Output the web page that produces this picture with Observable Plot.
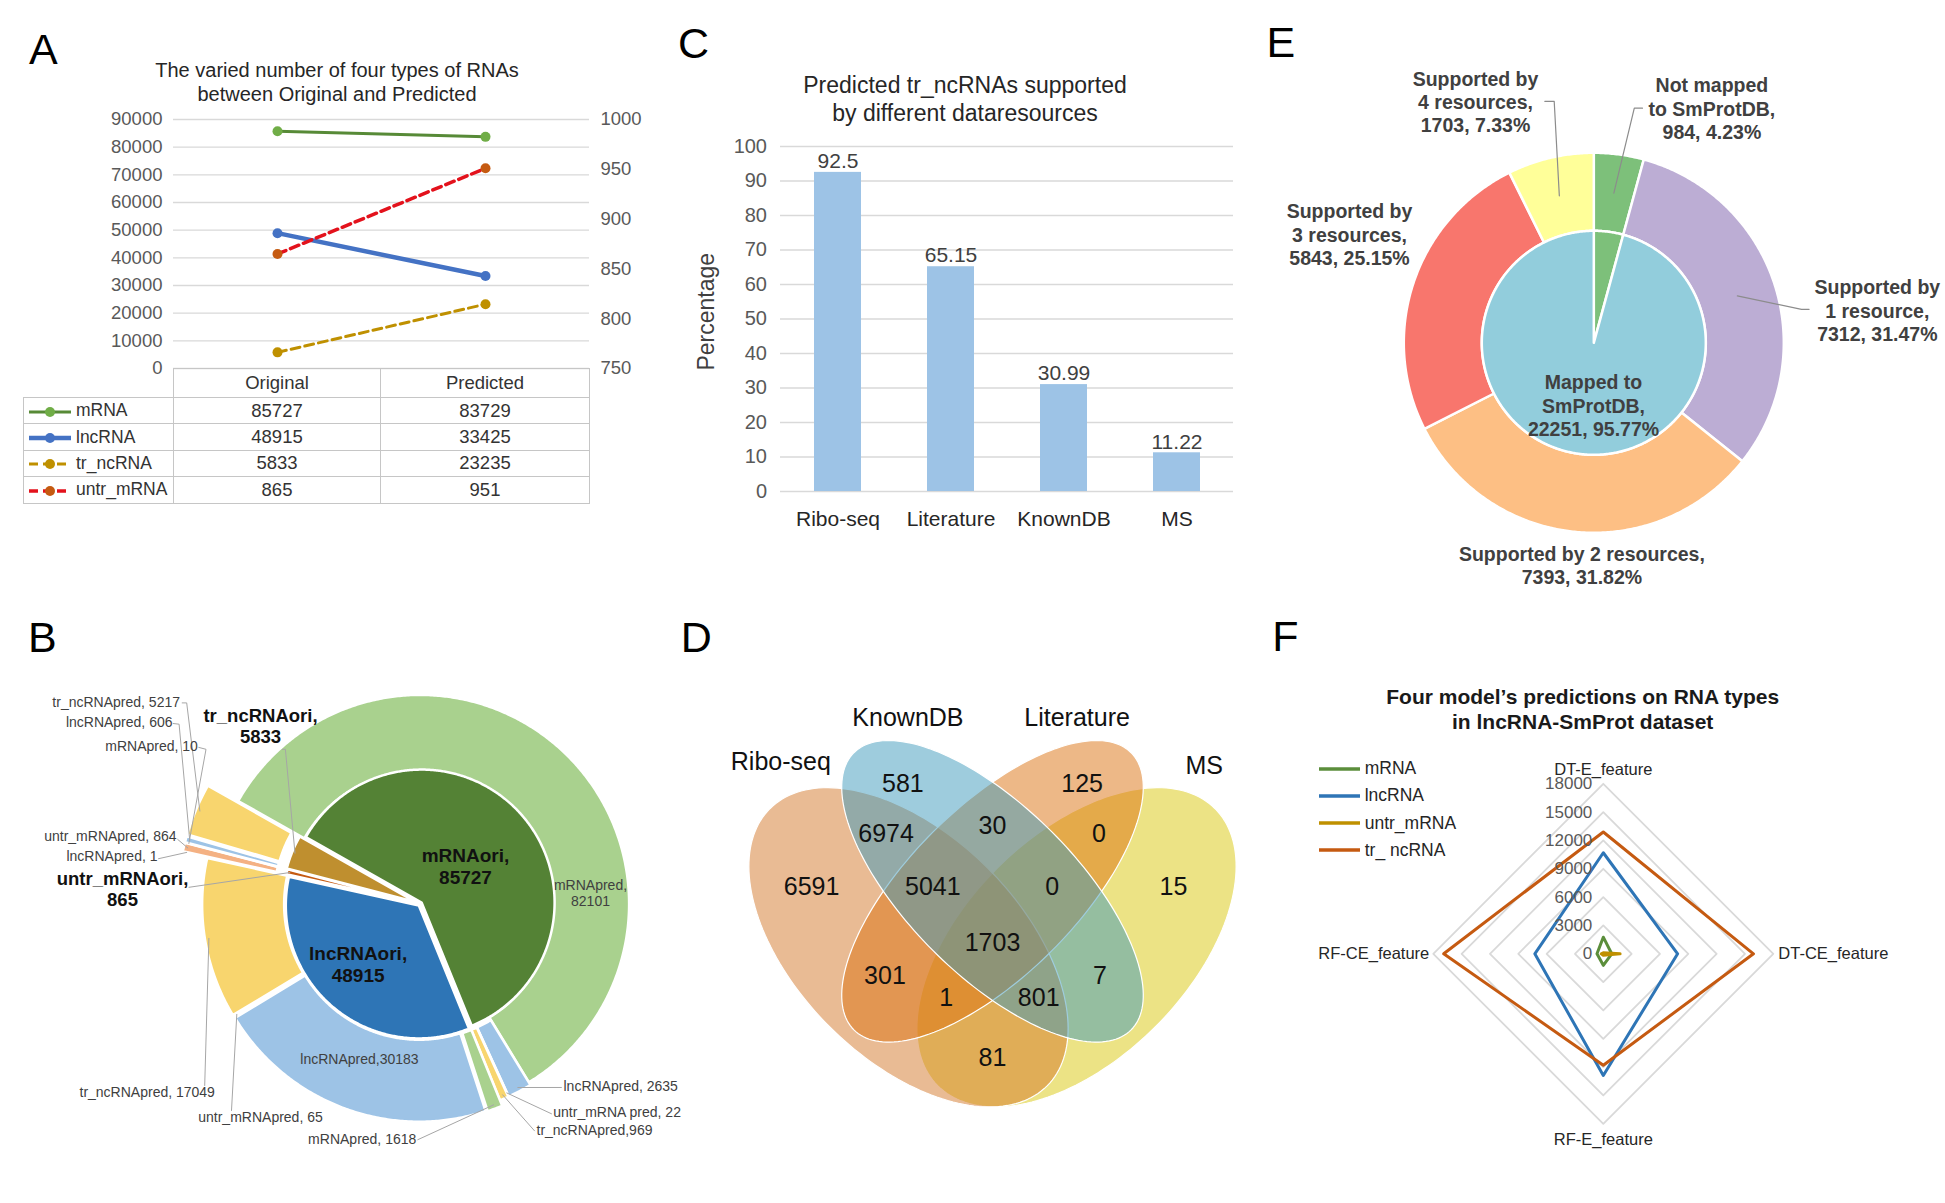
<!DOCTYPE html>
<html>
<head>
<meta charset="utf-8">
<script src="https://cdn.jsdelivr.net/npm/d3@7"></script>
<script src="https://cdn.jsdelivr.net/npm/@observablehq/plot@0.6"></script>
<style>
  html, body { margin: 0; padding: 0; background: #fff; overflow: hidden; }
  #root { position: relative; width: 1945px; height: 1203px; overflow: hidden; background: #fff;
          font-family: "Liberation Sans", Arial, Helvetica, sans-serif; }
  .t { position: absolute; white-space: nowrap; }
  #tableA { position: absolute; left: 23px; top: 368px; border-collapse: collapse; table-layout: fixed; width: 566px; }
  #tableA td { border: 1.5px solid #c6c6c6; padding: 0; text-align: center; font-size: 18.5px; color: #333; white-space: nowrap; overflow: visible; }
  #tableA td.blank { border: none; }
  #tableA td.key { text-align: left; padding-left: 4px; font-size: 17.5px; }
  #tableA td.key svg { vertical-align: middle; margin-right: 4px; }
</style>
</head>
<body>
<div id="root"></div>
<script>
// ================= DATA =================
// A: line chart + table
const aCategories = ["Original", "Predicted"];
const aSeries = ["mRNA", "lncRNA", "tr_ncRNA", "untr_mRNA"];
const aMRNA = [85727, 83729];
const aLncRNA = [48915, 33425];
const aTrNcRNA = [5833, 23235];
const aUntrMRNA = [865, 951];               // secondary axis
const aLeftTicks = [0, 10000, 20000, 30000, 40000, 50000, 60000, 70000, 80000, 90000];
const aRightTicks = [750, 800, 850, 900, 950, 1000];

// B: doughnut (original types inside, predicted types outside)
const bOriTypes = ["mRNAori", "lncRNAori", "untr_mRNAori", "tr_ncRNAori"];
const bOriValues = [85727, 48915, 865, 5833];
const bPredTypes = ["mRNApred", "lncRNApred", "untr_mRNApred", "tr_ncRNApred"];
const bPredFromMRNA = [82101, 2635, 22, 969];
const bPredFromLncRNA = [1618, 30183, 65, 17049];
const bPredFromUntr = [0, 1, 864, 0];
const bPredFromTrNc = [10, 606, 0, 5217];

// C: bar chart
const cCategories = ["Ribo-seq", "Literature", "KnownDB", "MS"];
const cPercent = [92.5, 65.15, 30.99, 11.22];
const cTicks = [0, 10, 20, 30, 40, 50, 60, 70, 80, 90, 100];

// D: Venn diagram (R = Ribo-seq, K = KnownDB, L = Literature, M = MS)
const dSets = ["Ribo-seq", "KnownDB", "Literature", "MS"];
const dRegions = ["R", "K", "L", "M", "RK", "KL", "LM", "RL", "RM", "KM", "RKL", "KLM", "RLM", "RKM", "RKLM"];
const dCounts = [6591, 581, 125, 15, 6974, 30, 0, 301, 81, 7, 5041, 0, 1, 801, 1703];

// E: nested pie
const eOuterNames = ["Not mapped\nto SmProtDB", "Supported by\n1 resource", "Supported by 2 resources", "Supported by\n3 resources", "Supported by\n4 resources"];
const eOuterValues = [984, 7312, 7393, 5843, 1703];
const eOuterPercent = ["4.23%", "31.47%", "31.82%", "25.15%", "7.33%"];
const eInnerNames = ["Not mapped\nto SmProtDB", "Mapped to\nSmProtDB"];
const eInnerValues = [984, 22251];
const eInnerPercent = ["4.23%", "95.77%"];

// F: radar
const fAxes = ["DT-E_feature", "DT-CE_feature", "RF-E_feature", "RF-CE_feature"];
const fSeries = ["mRNA", "lncRNA", "untr_mRNA", "tr_ ncRNA"];
const fMRNA = [1760, 890, 1220, 670];
const fLncRNA = [10700, 7870, 12880, 7250];
const fUntrMRNA = [110, 1780, 150, 220];
const fTrNcRNA = [12900, 15900, 11800, 16900];
const fTicks = [0, 3000, 6000, 9000, 12000, 15000, 18000];

// ================= HELPERS =================
const FONT = '"Liberation Sans", Arial, Helvetica, sans-serif';
const deg = Math.PI / 180;
const root = document.getElementById("root");
function put(el, left, top) {
  el.style.position = "absolute"; el.style.left = left + "px"; el.style.top = top + "px";
  root.appendChild(el); return el;
}
function txt(text, x, y, size, o = {}) {
  const lh = o.lh || 1.2, anchor = o.anchor || "middle";
  const lines = text.split("\n");
  const d = document.createElement("div");
  d.className = "t";
  Object.assign(d.style, {fontSize: size + "px", lineHeight: String(lh), fontWeight: o.weight || "normal",
    color: o.color || "#000", textAlign: anchor === "middle" ? "center" : anchor === "end" ? "right" : "left"});
  lines.forEach((l, i) => { if (i) d.appendChild(document.createElement("br")); d.appendChild(document.createTextNode(l)); });
  d.style.top = (y - lines.length * size * lh / 2) + "px";
  if (anchor === "middle") { d.style.left = x + "px"; d.style.transform = "translateX(-50%)" + (o.rotate ? ` rotate(${o.rotate}deg)` : ""); }
  else if (anchor === "end") d.style.right = (1945 - x) + "px";
  else d.style.left = x + "px";
  root.appendChild(d);
  return d;
}
function polar(a, r, o = [0, 0]) { return [o[0] + r * Math.sin(a), o[1] + r * Math.cos(a)]; }
function sector(a0, a1, r0, r1, o = [0, 0]) {
  const n = Math.max(2, Math.ceil(Math.abs(a1 - a0) / (0.5 * deg)));
  const pts = [];
  for (let i = 0; i <= n; i++) pts.push(polar(a0 + (a1 - a0) * i / n, r1, o));
  if (r0 > 0) for (let i = n; i >= 0; i--) pts.push(polar(a0 + (a1 - a0) * i / n, r0, o));
  else pts.push([o[0], o[1]]);
  return pts;
}
const baseStyle = {fontFamily: FONT, background: "transparent", overflow: "visible"};
// plot whose x/y units are pixels, origin at local (cx, cy), y upward
function pxPlot(left, top, width, height, cx, cy, marks) {
  const p = Plot.plot({
    width, height, marginLeft: 0, marginRight: 0, marginTop: 0, marginBottom: 0,
    x: {type: "linear", domain: [-cx, width - cx], axis: null},
    y: {type: "linear", domain: [cy - height, cy], axis: null},
    style: baseStyle, marks
  });
  return put(p, left, top);
}

// ================= PANEL LETTERS =================
[["A", 29, 50], ["B", 28, 637.5], ["C", 678, 44], ["D", 680.7, 637.5], ["E", 1266.6, 42.5], ["F", 1272.3, 637]]
  .forEach(([l, x, y]) => txt(l, x, y, 43, {anchor: "start"}));

// ================= PANEL A =================
txt("The varied number of four types of RNAs\nbetween Original and Predicted", 337, 81.5, 20, {color: "#262626"});
const aToLeft = v => (v - 750) / 250 * 90000;
const aFromLeft = y => 750 + y / 90000 * 250;
const aValues = [aMRNA, aLncRNA, aTrNcRNA, aUntrMRNA];
const aSecondary = [false, false, false, true];
const aRows = aSeries.flatMap((s, si) => aCategories.map((c, ci) => ({
  series: s, cat: c, value: aValues[si][ci],
  y: aSecondary[si] ? aToLeft(aValues[si][ci]) : aValues[si][ci]
})));
const aStyles = [
  {line: "#578A37", marker: "#70AD47", width: 3},
  {line: "#4472C4", marker: "#4472C4", width: 4.5},
  {line: "#BF9000", marker: "#BF9000", width: 3, dash: "9,5"},
  {line: "#E3121C", marker: "#C55A11", width: 3.5, dash: "9,5"}
];
const plotA = Plot.plot({
  width: 650, height: 290, marginLeft: 173, marginRight: 61, marginTop: 19, marginBottom: 22,
  x: {type: "point", domain: aCategories, padding: 0.5, axis: null},
  y: {domain: [0, 90000], axis: null},
  style: {...baseStyle, color: "#595959"},
  marks: [
    Plot.gridY(aLeftTicks, {stroke: "#d9d9d9", strokeOpacity: 1, strokeWidth: 1.3}),
    Plot.axisY(aLeftTicks, {anchor: "left", tickSize: 0, tickPadding: 11, fontSize: 18.5, tickFormat: d3.format("d"), label: null}),
    Plot.axisY(aRightTicks.map(aToLeft), {anchor: "right", tickSize: 0, tickPadding: 11, fontSize: 18.5,
      tickFormat: y => d3.format("d")(Math.round(aFromLeft(y))), label: null}),
    ...aSeries.map((s, si) => Plot.line(aRows.filter(r => r.series === s), {
      x: "cat", y: "y", stroke: aStyles[si].line, strokeWidth: aStyles[si].width, strokeDasharray: aStyles[si].dash})),
    ...aSeries.map((s, si) => Plot.dot(aRows.filter(r => r.series === s), {x: "cat", y: "y", r: 5, fill: aStyles[si].marker}))
  ]
});
put(plotA, 0, 100);

// data table under chart A
(function () {
  const table = document.createElement("table");
  table.id = "tableA";
  const cg = document.createElement("colgroup");
  [150, 207, 209].forEach(w => { const c = document.createElement("col"); c.style.width = w + "px"; cg.appendChild(c); });
  table.appendChild(cg);
  const hr = document.createElement("tr"); hr.style.height = "29px";
  const blank = document.createElement("td"); blank.className = "blank"; hr.appendChild(blank);
  aCategories.forEach(c => { const td = document.createElement("td"); td.textContent = c; hr.appendChild(td); });
  table.appendChild(hr);
  aSeries.forEach((s, si) => {
    const tr = document.createElement("tr"); tr.style.height = "26.4px";
    const key = document.createElement("td"); key.className = "key";
    const st = aStyles[si];
    const sw = d3.create("svg").attr("width", 44).attr("height", 14);
    sw.append("line").attr("x1", 1).attr("x2", 43).attr("y1", 7).attr("y2", 7)
      .attr("stroke", st.line).attr("stroke-width", st.width).attr("stroke-dasharray", st.dash || null);
    sw.append("circle").attr("cx", 22).attr("cy", 7).attr("r", 5).attr("fill", st.marker);
    key.appendChild(sw.node());
    key.appendChild(document.createTextNode(s));
    tr.appendChild(key);
    aValues[si].forEach(v => { const td = document.createElement("td"); td.textContent = v; tr.appendChild(td); });
    table.appendChild(tr);
  });
  root.appendChild(table);
})();

// ================= PANEL B =================
(function () {
  const bPredByOri = [bPredFromMRNA, bPredFromLncRNA, bPredFromUntr, bPredFromTrNc];
  const innerColor = ["#548235", "#2E75B6", "#C55A11", "#BF8F2F"];
  const outerColor = ["#A9D18E", "#9DC3E6", "#F4B183", "#F8D56E"];
  const R1 = 133, R2 = 209, start = -60.5 * deg;
  const innerExplode = [2, 2, 4, 5];
  const outerExplode = (oi, pi) => oi === 0 ? (pi === 0 ? {d: 0, extra: 0} : {d: 3, extra: 0})
    : oi === 1 ? {d: 3, extra: 6} : {d: 14, extra: 20};
  const pie = d3.pie().sort(null).startAngle(start).endAngle(start + 2 * Math.PI);
  const inner = pie(bOriValues).map((a, i) => {
    const mid = (a.startAngle + a.endAngle) / 2;
    const off = polar(mid, innerExplode[i]);
    return {a, mid, off, r0: 0, r1: R1, color: innerColor[i]};
  });
  const outerVals = [], outerMeta = [];
  bPredByOri.forEach((arr, oi) => arr.forEach((v, pi) => { outerVals.push(v); outerMeta.push({oi, pi}); }));
  const outer = {};
  pie(outerVals).forEach((a, k) => {
    const {oi, pi} = outerMeta[k];
    const mid = (a.startAngle + a.endAngle) / 2;
    const ex = outerExplode(oi, pi);
    const off = polar(mid, ex.d);
    outer[oi + "-" + pi] = {a, mid, off, r0: R1, r1: R2 + ex.extra, color: outerColor[pi], v: outerVals[k]};
  });
  const slicesMarks = [...Object.values(outer).filter(s => s.v > 0), ...inner].map(s =>
    Plot.line(sector(s.a.startAngle, s.a.endAngle, s.r0, s.r1, s.off),
      {fill: s.color, stroke: "white", strokeWidth: 2.5, curve: "linear-closed"}));

  const labels = [
    {ring: "outer", oi: 3, pi: 3, sep: ", ", pos: [-240.1, 201.8], anchor: "end", leader: [[-237.9, 201], [-233.4, 201]]},
    {ring: "outer", oi: 3, pi: 1, sep: ", ", pos: [-247.6, 182.4], anchor: "end", leader: [[-246.9, 180.4], [-241, 179.7]]},
    {ring: "outer", oi: 3, pi: 0, sep: ", ", pos: [-222.2, 158.4], anchor: "end", leader: [[-221.3, 156.5], [-214.1, 154.6]]},
    {ring: "inner", oi: 3, sep: ",\n", pos: [-159.6, 178.5], bold: true, size: 18.5, leader: [[-137.8, 154.6], [-134.7, 154.6]]},
    {ring: "outer", oi: 2, pi: 2, sep: ", ", pos: [-243.6, 67.6], anchor: "end", leader: [[-242.4, 64.5]]},
    {ring: "outer", oi: 2, pi: 1, sep: ", ", pos: [-262.6, 48.4], anchor: "end", leader: [[-261.6, 45.2]]},
    {ring: "inner", oi: 2, sep: ",\n", pos: [-297.6, 15], bold: true, size: 18.5, leader: [[-231.1, 16.6]]},
    {ring: "inner", oi: 0, sep: ",\n", pos: [45.4, 37.6], bold: true, size: 19},
    {ring: "inner", oi: 1, sep: ",\n", pos: [-62, -60.4], bold: true, size: 19},
    {ring: "outer", oi: 0, pi: 0, sep: ",\n", pos: [170.4, 11.4]},
    {ring: "outer", oi: 1, pi: 1, sep: ",", pos: [-60.6, -154.6]},
    {ring: "outer", oi: 1, pi: 3, sep: ", ", pos: [-272.9, -188.2], leader: [[-215.4, -181.6]]},
    {ring: "outer", oi: 1, pi: 2, sep: ", ", pos: [-159.6, -213.4], leader: [[-188.6, -206.6]]},
    {ring: "outer", oi: 1, pi: 0, sep: ", ", pos: [-57.9, -234.6], leader: [[-2.3, -235.8]]},
    {ring: "outer", oi: 0, pi: 1, sep: ", ", pos: [143.4, -182.4], anchor: "start", leader: [[141.3, -183.6]]},
    {ring: "outer", oi: 0, pi: 2, sep: ", ", name: "untr_mRNA pred", pos: [133.2, -207.6], anchor: "start", leader: [[131.4, -209.9]]},
    {ring: "outer", oi: 0, pi: 3, sep: ",", pos: [116.4, -226.1], anchor: "start", leader: [[114.4, -226.9]]}
  ];
  const leaderMarks = [], textMarks = [];
  labels.forEach(l => {
    let name, value, anchorPt;
    if (l.ring === "inner") {
      const s = inner[l.oi]; name = bOriTypes[l.oi]; value = bOriValues[l.oi];
      anchorPt = polar(s.mid, R1 - 3, s.off);
    } else {
      const s = outer[l.oi + "-" + l.pi]; name = l.name || bPredTypes[l.pi]; value = bPredByOri[l.oi][l.pi];
      anchorPt = polar(s.mid, s.r1 - 4, s.off);
    }
    if (l.leader) leaderMarks.push(Plot.line([...l.leader, anchorPt], {stroke: "#a6a6a6", strokeWidth: 1}));
    textMarks.push(Plot.text([l], {
      x: d => d.pos[0], y: d => d.pos[1], text: () => name + l.sep + value,
      textAnchor: l.anchor || "middle", lineAnchor: "middle", lineHeight: 1.15,
      fontSize: l.size || 14, fontWeight: l.bold ? "bold" : "normal", fill: l.bold ? "#111" : "#404040"
    }));
  });
  pxPlot(0, 600, 690, 603, 419.6, 303.4, [...slicesMarks, ...leaderMarks, ...textMarks]);
})();

// ================= PANEL C =================
txt("Predicted tr_ncRNAs supported\nby different dataresources", 965, 99.5, 23, {lh: 1.26, color: "#262626"});
txt("Percentage", 707, 312, 23, {rotate: -90, color: "#404040"});
(function () {
  const cRows = cCategories.map((c, i) => ({cat: c, pct: cPercent[i]}));
  const plotC = Plot.plot({
    width: 580, height: 420, marginLeft: 100, marginRight: 27, marginTop: 16, marginBottom: 59,
    x: {type: "band", domain: cCategories, paddingInner: 0.585, paddingOuter: 0.2925, axis: null},
    y: {domain: [0, 100], axis: null},
    style: {...baseStyle, color: "#595959"},
    marks: [
      Plot.gridY(cTicks, {stroke: "#d9d9d9", strokeOpacity: 1, strokeWidth: 1.3}),
      Plot.axisY(cTicks, {tickSize: 0, tickPadding: 13.5, fontSize: 20, label: null}),
      Plot.axisX(cCategories, {tickSize: 0, tickPadding: 20, fontSize: 21, fill: "#262626", label: null}),
      Plot.barY(cRows, {x: "cat", y: "pct", fill: "#9DC3E6"}),
      Plot.text(cRows, {x: "cat", y: "pct", text: d => String(d.pct), dy: -11, fontSize: 21, fill: "#404040"})
    ]
  });
  put(plotC, 680, 130);
})();

// ================= PANEL D =================
(function () {
  // VennDiagram quad layout geometry (unit square)
  const ellipses = [
    {cx: 0.35, cy: 0.47, a: 0.35, b: 0.20, rot: 135, color: "#D37729"},
    {cx: 0.50, cy: 0.57, a: 0.35, b: 0.15, rot: 135, color: "#3D99BB"},
    {cx: 0.50, cy: 0.57, a: 0.35, b: 0.15, rot: 45, color: "#DB710F"},
    {cx: 0.65, cy: 0.47, a: 0.35, b: 0.20, rot: 45, color: "#D9C70B"}
  ];
  const drawOrder = [3, 0, 2, 1];
  const setLabelPos = [[0.122, 0.801], [0.349, 0.880], [0.651, 0.880], [0.878, 0.793]];
  const labelNudge = {K: [-0.045, 0], L: [0.045, 0]};
  const inside = (e, x, y) => {
    const t = e.rot * deg, c = Math.cos(t), s = Math.sin(t);
    const dx = x - e.cx, dy = y - e.cy;
    const u = dx * c + dy * s, v = -dx * s + dy * c;
    return (u * u) / (e.a * e.a) + (v * v) / (e.b * e.b) <= 1;
  };
  const ellPts = e => {
    const t0 = e.rot * deg;
    return d3.range(0, 360, 2).map(k => {
      const t = k * deg;
      return [e.cx + e.a * Math.cos(t) * Math.cos(t0) - e.b * Math.sin(t) * Math.sin(t0),
              e.cy + e.a * Math.cos(t) * Math.sin(t0) + e.b * Math.sin(t) * Math.cos(t0)];
    });
  };
  // region label positions: pole of inaccessibility of each region on a grid
  const NG = 200;
  const codes = new Uint8Array(NG * NG);
  for (let j = 0; j < NG; j++) for (let i = 0; i < NG; i++) {
    const x = (i + 0.5) / NG, y = (j + 0.5) / NG;
    let c = 0;
    ellipses.forEach((e, k) => { if (inside(e, x, y)) c |= 1 << k; });
    codes[j * NG + i] = c;
  }
  const pole = target => {
    const D = new Float32Array(NG * NG);
    for (let k = 0; k < NG * NG; k++) D[k] = codes[k] === target ? 1e9 : 0;
    const g = (i, j) => (i < 0 || j < 0 || i >= NG || j >= NG) ? 0 : D[j * NG + i];
    for (let j = 0; j < NG; j++) for (let i = 0; i < NG; i++) {
      const k = j * NG + i;
      if (D[k] > 0) D[k] = Math.min(D[k], g(i - 1, j) + 1, g(i, j - 1) + 1, g(i - 1, j - 1) + Math.SQRT2, g(i + 1, j - 1) + Math.SQRT2);
    }
    for (let j = NG - 1; j >= 0; j--) for (let i = NG - 1; i >= 0; i--) {
      const k = j * NG + i;
      if (D[k] > 0) D[k] = Math.min(D[k], g(i + 1, j) + 1, g(i, j + 1) + 1, g(i + 1, j + 1) + Math.SQRT2, g(i - 1, j + 1) + Math.SQRT2);
    }
    let best = 0;
    for (let k = 0; k < NG * NG; k++) if (D[k] > best) best = D[k];
    let sx = 0, sy = 0, n = 0;
    for (let j = 0; j < NG; j++) for (let i = 0; i < NG; i++) {
      if (D[j * NG + i] >= best - 0.3) { sx += (i + 0.5) / NG; sy += (j + 0.5) / NG; n++; }
    }
    return [sx / n, sy / n];
  };
  const bits = {R: 1, K: 2, L: 4, M: 8};
  const regionRows = dRegions.map((key, i) => {
    const code = [...key].reduce((acc, ch) => acc | bits[ch], 0);
    const [x, y] = pole(code);
    const nd = labelNudge[key] || [0, 0];
    return {x: x + nd[0], y: y + nd[1], count: dCounts[i]};
  });
  const setRows = dSets.map((s, i) => ({name: s, x: setLabelPos[i][0], y: setLabelPos[i][1]}));
  const plotD = Plot.plot({
    width: 560, height: 560, marginLeft: 0, marginRight: 0, marginTop: 0, marginBottom: 0,
    x: {domain: [0, 1], axis: null}, y: {domain: [0, 1], axis: null},
    style: baseStyle,
    marks: [
      ...drawOrder.map(k => Plot.line(ellPts(ellipses[k]), {fill: ellipses[k].color, fillOpacity: 0.5, stroke: "white", strokeWidth: 1.2, curve: "linear-closed"})),
      Plot.text(setRows, {x: "x", y: "y", text: "name", fontSize: 25, fill: "#111"}),
      Plot.text(regionRows, {x: "x", y: "y", text: d => String(d.count), fontSize: 25, fill: "#111"})
    ]
  });
  put(plotD, 712.3, 649.8);
})();

// ================= PANEL E =================
(function () {
  const outerColors = ["#7DC07A", "#BCADD4", "#FDBF84", "#F8766D", "#FFFF99"];
  const innerColors = ["#7DC07A", "#92CDDC"];
  const r0 = 112, r1 = 190;
  const pie = d3.pie().sort(null);
  const outerArcs = pie(eOuterValues), innerArcs = pie(eInnerValues);
  const marks = [
    ...outerArcs.map((a, i) => Plot.line(sector(a.startAngle, a.endAngle, r0, r1), {fill: outerColors[i], stroke: "white", strokeWidth: 2.5, curve: "linear-closed"})),
    ...innerArcs.map((a, i) => Plot.line(sector(a.startAngle, a.endAngle, 0, r0), {fill: innerColors[i], stroke: "white", strokeWidth: 2.5, curve: "linear-closed"}))
  ];
  const layout = [
    {ring: "outer", i: 0, pos: [118.1, 234.6], leader: [[48.7, 234.6], [40.5, 234.6]]},
    {ring: "outer", i: 1, pos: [283.5, 32.7], leader: [[215.3, 33.5], [207.7, 33.5]]},
    {ring: "outer", i: 2, pos: [-11.9, -222.5]},
    {ring: "outer", i: 3, pos: [-244.3, 108.5]},
    {ring: "outer", i: 4, pos: [-118.3, 241.3], leader: [[-49, 241.5], [-39.6, 241.5]]},
    {ring: "inner", i: 1, pos: [-0.3, -62.3]}
  ];
  layout.forEach(l => {
    const isOuter = l.ring === "outer";
    const a = isOuter ? outerArcs[l.i] : innerArcs[l.i];
    const name = isOuter ? eOuterNames[l.i] : eInnerNames[l.i];
    const val = isOuter ? eOuterValues[l.i] : eInnerValues[l.i];
    const pct = isOuter ? eOuterPercent[l.i] : eInnerPercent[l.i];
    if (l.leader) marks.push(Plot.line([...l.leader, polar((a.startAngle + a.endAngle) / 2, (r0 + r1) / 2)], {stroke: "#8c8c8c", strokeWidth: 1.2}));
    marks.push(Plot.text([l], {x: d => d.pos[0], y: d => d.pos[1], text: () => `${name},\n${val}, ${pct}`,
      lineAnchor: "middle", lineHeight: 1.2, fontSize: 19.5, fontWeight: "bold", fill: "#404040"}));
  });
  pxPlot(1280, 0, 665, 600, 313.3, 342.3, marks);
})();

// ================= PANEL F =================
txt("Four model’s predictions on RNA types\nin lncRNA-SmProt dataset", 1582.7, 709.5, 21, {weight: "bold", lh: 1.22, color: "#1a1a1a"});
(function () {
  const fValues = [fMRNA, fLncRNA, fUntrMRNA, fTrNcRNA];
  const fColors = ["#5B8E3B", "#2E75B6", "#BF9000", "#C55A11"];
  // legend
  fSeries.forEach((s, i) => {
    const y = 768.8 + i * 27.1;
    const sw = d3.create("svg").attr("width", 42).attr("height", 8);
    sw.append("line").attr("x1", 0).attr("x2", 41).attr("y1", 4).attr("y2", 4).attr("stroke", fColors[i]).attr("stroke-width", 3.5);
    put(sw.node(), 1318.6, y - 4);
    txt(s, 1364.7, y, 17.5, {anchor: "start", color: "#262626"});
  });
  const k = 170 / 18000;  // px per unit
  const cx = 312.8, cy = 213.3, W = 655, H = 463;
  const vtx = (ai, v) => polar(ai * 2 * Math.PI / fAxes.length, v);
  const grid = fTicks.filter(t => t > 0).map(t => fAxes.map((_, ai) => vtx(ai, t)));
  const series = fValues.map(vals => vals.map((v, ai) => vtx(ai, v)));
  const tickRows = fTicks.map(t => ({t, x: 0, y: t}));
  const axisRows = fAxes.map((a, ai) => { const [x, y] = vtx(ai, 18000); return {a, ai, x, y}; });
  const plotF = Plot.plot({
    width: W, height: H, marginLeft: 0, marginRight: 0, marginTop: 0, marginBottom: 0,
    x: {domain: [-cx / k, (W - cx) / k], axis: null},
    y: {domain: [(cy - H) / k, cy / k], axis: null},
    style: baseStyle,
    marks: [
      ...grid.map(pts => Plot.line(pts, {stroke: "#d9d9d9", strokeWidth: 1.8, curve: "linear-closed"})),
      ...series.map((pts, i) => Plot.line(pts, {stroke: fColors[i], strokeWidth: 3, curve: "linear-closed"})),
      Plot.text(tickRows, {x: "x", y: "y", text: d => String(d.t), textAnchor: "end", dx: -11, fontSize: 17, fill: "#595959"}),
      Plot.text(axisRows.filter(d => d.ai === 0), {x: "x", y: "y", text: "a", dy: -14.5, fontSize: 16.5, fill: "#262626"}),
      Plot.text(axisRows.filter(d => d.ai === 2), {x: "x", y: "y", text: "a", dy: 15.5, fontSize: 16.5, fill: "#262626"}),
      Plot.text(axisRows.filter(d => d.ai === 1), {x: "x", y: "y", text: "a", textAnchor: "start", dx: 5, fontSize: 16.5, fill: "#262626"}),
      Plot.text(axisRows.filter(d => d.ai === 3), {x: "x", y: "y", text: "a", textAnchor: "end", dx: -4, fontSize: 16.5, fill: "#262626"})
    ]
  });
  put(plotF, 1290, 740);
})();
</script>
</body>
</html>
